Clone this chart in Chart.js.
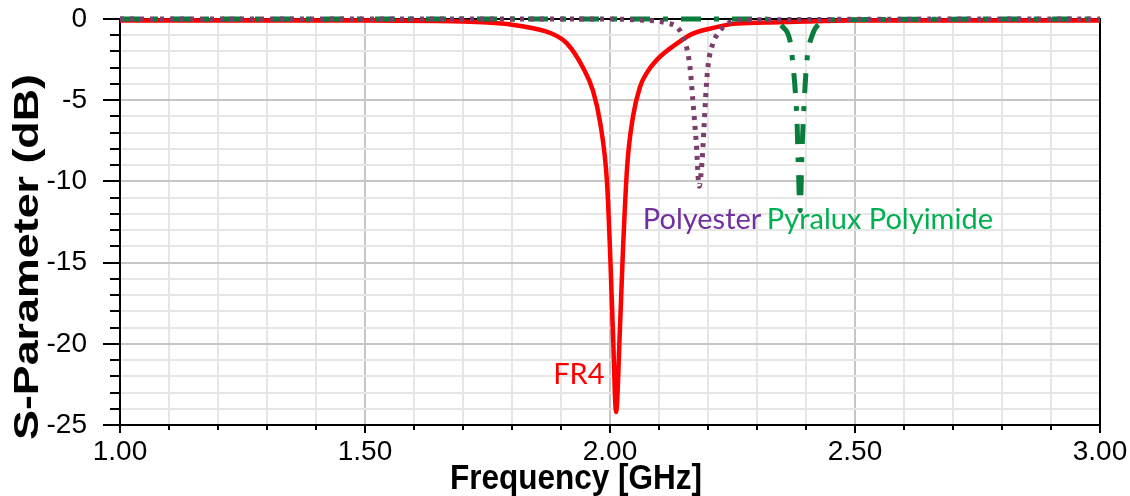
<!DOCTYPE html>
<html>
<head>
<meta charset="utf-8">
<script src="https://cdn.jsdelivr.net/npm/chart.js@4.4.1/dist/chart.umd.min.js"></script>
<style>
html, body { margin: 0; padding: 0; background: #fff; }
#wrap { width: 1130px; height: 496px; position: relative; }
</style>
</head>
<body>
<div id="wrap"><canvas id="chart_sparam"></canvas></div>
<script>
// values
var freqFR4 = [1.00, 1.50, 1.65, 1.70, 1.75, 1.80, 1.84, 1.878, 1.912, 1.945, 1.965, 1.980, 1.994, 2.000, 2.006, 2.0125,
               2.020, 2.0265, 2.035, 2.047, 2.061, 2.0755, 2.096, 2.137, 2.169, 2.218, 2.251, 2.32, 2.40, 2.49, 3.00];
var sFR4 = [-0.1, -0.1, -0.12, -0.15, -0.22, -0.35, -0.55, -0.86, -1.5, -3.0, -4.4, -6.4, -10.1, -14.2, -19.3, -24.2,
            -19.3, -14.2, -9.1, -6.0, -4.2, -3.3, -2.5, -1.5, -0.9, -0.5, -0.3, -0.22, -0.15, -0.1, -0.1];

var freqPolyester = [1.00, 2.00, 2.055, 2.116, 2.149, 2.163, 2.169, 2.176, 2.182, 2.188, 2.192, 2.196, 2.200, 2.210, 2.220, 2.231, 2.259, 3.00];
var sPolyester = [0, 0, -0.06, -0.25, -1.1, -2.9, -5.0, -7.6, -10.3, -8.7, -6.6, -4.4, -2.9, -1.5, -0.9, -0.5, -0.06, 0];

var freqPyralux = [1.00, 2.30, 2.333, 2.353, 2.367, 2.373, 2.378, 2.382, 2.384, 2.388, 2.392, 2.398, 2.402, 2.414, 2.429, 2.449, 3.00];
var sPyralux = [0, 0, -0.06, -0.5, -1.3, -2.7, -4.4, -6.6, -8.7, -11.8, -8.0, -4.2, -2.5, -0.9, -0.25, -0.05, 0];

var xTickValues = [1.0, 1.5, 2.0, 2.5, 3.0];
var xTickLabels = ["1.00", "1.50", "2.00", "2.50", "3.00"];
var yTickValues = [0, -5, -10, -15, -20, -25];
var yTickLabels = ["0", "-5", "-10", "-15", "-20", "-25"];

var seriesNames = ["FR4", "Polyester", "Pyralux Polyimide"];

function toPoints(xs, ys){
    var pts = [];
    for (var i = 0; i < xs.length; i++) {
        pts.push({x: xs[i], y: ys[i]});
    }
    return pts;
}
function findLabel(values, labels, v){
    for (var i = 0; i < values.length; i++) {
        if (Math.abs(values[i] - v) < 1e-6) return labels[i];
    }
    return '';
}
function isMajor(values, v){
    return findLabel(values, values.map(String), v) !== '';
}

// frame, tick marks, axis titles and the curve names
var sparamDecor = {
    id: 'sparamDecor',
    beforeDatasetsDraw: function(chart){
        var c = chart.ctx, a = chart.chartArea;
        c.save();
        c.strokeStyle = '#000';
        c.lineWidth = 2;
        c.strokeRect(a.left, a.top, a.right - a.left, a.bottom - a.top);
        c.restore();
    },
    afterDraw: function(chart){
        var c = chart.ctx, a = chart.chartArea;
        var xs = chart.scales.x, ys = chart.scales.y;
        c.save();
        c.strokeStyle = '#000';
        c.lineWidth = 2;
        c.beginPath();
        ys.ticks.forEach(function(t){
            var py = Math.round(ys.getPixelForValue(t.value));
            var len = isMajor(yTickValues, t.value) ? 17 : 10;
            c.moveTo(a.left - len, py);
            c.lineTo(a.left, py);
        });
        xs.ticks.forEach(function(t){
            var px = Math.round(xs.getPixelForValue(t.value));
            var len = isMajor(xTickValues, t.value) ? 8 : 5;
            c.moveTo(px, a.bottom);
            c.lineTo(px, a.bottom + len);
        });
        c.stroke();

        // axis titles
        c.fillStyle = '#000';
        c.font = 'bold 35px "Liberation Sans", Arial, sans-serif';
        c.textBaseline = 'alphabetic';
        c.textAlign = 'center';
        c.save();
        c.translate(576, 489);
        c.scale(0.9, 1);
        c.fillText('Frequency [GHz]', 0, 0);
        c.restore();

        c.save();
        c.translate(38, 257);
        c.rotate(-Math.PI / 2);
        c.scale(1.28, 1);
        c.fillText('S-Parameter (dB)', 0, 0);
        c.restore();

        // curve names
        c.textAlign = 'left';
        c.font = '29px Lato, "Open Sans", sans-serif';
        c.fillStyle = '#7030a0';
        c.fillText(seriesNames[1], xs.getPixelForValue(2.067), ys.getPixelForValue(-12.95));
        c.fillStyle = '#00b050';
        c.fillText(seriesNames[2], xs.getPixelForValue(2.320), ys.getPixelForValue(-12.95));
        c.fillStyle = '#ff0000';
        c.fillText(seriesNames[0], xs.getPixelForValue(1.884), ys.getPixelForValue(-22.5));
        c.restore();
    }
};

var tickFont = { family: '"Liberation Sans", Arial, sans-serif', size: 28 };

var config = {
    type: 'line',
    data: {
        datasets: [{
            label: seriesNames[1],
            data: toPoints(freqPolyester, sPolyester),
            borderColor: '#7b3d6c',
            borderWidth: 5,
            borderDash: [4, 6],
            borderCapStyle: 'butt',
            pointRadius: 0,
            cubicInterpolationMode: 'monotone',
            clip: 6,
            order: 1
        }, {
            label: seriesNames[2],
            data: toPoints(freqPyralux, sPyralux),
            borderColor: '#0a7d3c',
            borderWidth: 5,
            borderDash: [20, 13, 5, 13],
            borderCapStyle: 'butt',
            pointRadius: 0,
            cubicInterpolationMode: 'monotone',
            clip: 6,
            order: 2
        }, {
            label: seriesNames[0],
            data: toPoints(freqFR4, sFR4),
            borderColor: '#ff0000',
            borderWidth: 4.5,
            pointRadius: 0,
            cubicInterpolationMode: 'monotone',
            clip: 6,
            order: 3
        }]
    },
    options: {
        responsive: true,
        maintainAspectRatio: false,
        animation: false,
        events: [],
        layout: { padding: { left: 0, top: 19, right: 30, bottom: 0 } },
        plugins: { legend: { display: false }, tooltip: { enabled: false } },
        scales: {
            x: {
                type: 'linear',
                min: 1, max: 3,
                afterFit: function(s){ s.height = 71; s.paddingLeft = 0; s.paddingRight = 0; },
                grid: {
                    drawTicks: false,
                    lineWidth: 2,
                    color: function(ctx){ return isMajor(xTickValues, ctx.tick.value) ? '#c6c6c6' : '#e6e6e6'; }
                },
                border: { display: true, color: '#000', width: 2 },
                ticks: {
                    stepSize: 0.1,
                    autoSkip: false,
                    maxRotation: 0,
                    padding: 10,
                    color: '#000',
                    font: tickFont,
                    callback: function(v){ return findLabel(xTickValues, xTickLabels, v); }
                }
            },
            y: {
                min: -25, max: 0,
                afterFit: function(s){ s.width = 120; s.paddingTop = 0; s.paddingBottom = 0; },
                grid: {
                    drawTicks: false,
                    lineWidth: 2,
                    color: function(ctx){ return isMajor(yTickValues, ctx.tick.value) ? '#c6c6c6' : '#e6e6e6'; }
                },
                border: { display: true, color: '#000', width: 2 },
                ticks: {
                    stepSize: 1,
                    autoSkip: false,
                    padding: 33,
                    color: '#000',
                    font: tickFont,
                    callback: function(v){ return findLabel(yTickValues, yTickLabels, v); }
                }
            }
        }
    },
    plugins: [sparamDecor]
};

var chartSparam = new Chart(document.getElementById('chart_sparam').getContext('2d'), config);
</script>
</body>
</html>
